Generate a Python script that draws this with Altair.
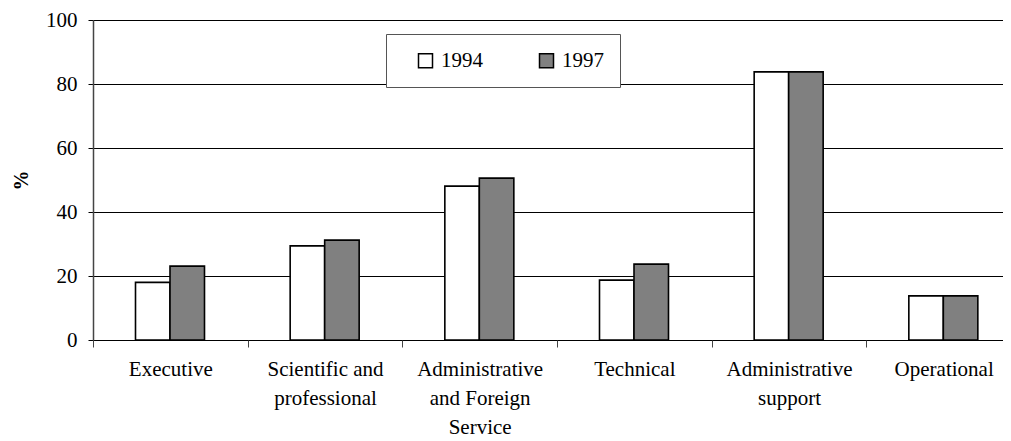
import altair as alt
import pandas as pd

categories = [
    "Executive",
    "Scientific and\nprofessional",
    "Administrative\nand Foreign\nService",
    "Technical",
    "Administrative\nsupport",
    "Operational",
]
years = ["1994", "1997"]
values_1994 = [18.0, 29.4, 48.1, 18.7, 83.8, 13.8]
values_1997 = [23.1, 31.2, 50.6, 23.7, 83.8, 13.8]
y_ticks = [0, 20, 40, 60, 80, 100]

rows = []
for c, a, b in zip(categories, values_1994, values_1997):
    rows.append({"category": c, "year": years[0], "value": a})
    rows.append({"category": c, "year": years[1], "value": b})
df = pd.DataFrame(rows)

FONT = "Times New Roman, Liberation Serif, serif"

chart = (
    alt.Chart(df)
    .mark_bar(stroke="black", strokeWidth=1.6)
    .encode(
        x=alt.X(
            "category:N",
            sort=categories,
            scale=alt.Scale(range=[0, 928], paddingInner=0, paddingOuter=0),
            axis=alt.Axis(
                title=None,
                labelAngle=0,
                labelExpr="split(datum.label, '\\n')",
                labelFont=FONT,
                labelFontSize=21,
                labelColor="black",
                labelLineHeight=29,
                labelPadding=11,
                labelBaseline="top",
                tickBand="extent",
                tickSize=7,
                tickColor="#444",
                domain=False,
                grid=False,
            ),
        ),
        xOffset=alt.XOffset(
            "year:N", sort=years,
            scale=alt.Scale(range=[42.5, 111.5], paddingOuter=0, paddingInner=0),
        ),
        y=alt.Y(
            "value:Q",
            scale=alt.Scale(domain=[0, 100], nice=False),
            axis=alt.Axis(
                title="%",
                titleFont=FONT,
                titleFontSize=20,
                titleFontWeight="bold",
                titleColor="black",
                titlePadding=14,
                values=y_ticks,
                labelFont=FONT,
                labelFontSize=21,
                labelColor="black",
                labelPadding=11,
                tickSize=5,
                tickColor="black",
                domainColor="#444",
                domainWidth=1.5,
                grid=True,
                gridColor="black",
                gridWidth=1,
            ),
        ),
        color=alt.Color(
            "year:N",
            sort=years,
            scale=alt.Scale(domain=years, range=["white", "#808080"]),
            legend=alt.Legend(
                title=None,
                orient="none",
                legendX=293,
                legendY=14,
                direction="horizontal",
                symbolType="square",
                symbolSize=196,
                symbolStrokeColor="black",
                symbolStrokeWidth=1.5,
                symbolOffset=13,
                labelFont=FONT,
                labelFontSize=21,
                labelColor="black",
                labelOffset=5,
                columnPadding=40,
                padding=16,
                strokeColor="#555",
                fillColor="white",
            ),
        ),
    )
    .properties(
        width=910,
        height=320,
        autosize=alt.AutoSizeParams(type="none"),
        padding={"left": 85, "top": 12, "right": 0, "bottom": 101},
    )
    .configure_view(stroke=None)
    .configure(background="white")
)

chart.save("out.html", embed_options={"renderer": "svg", "actions": False})
